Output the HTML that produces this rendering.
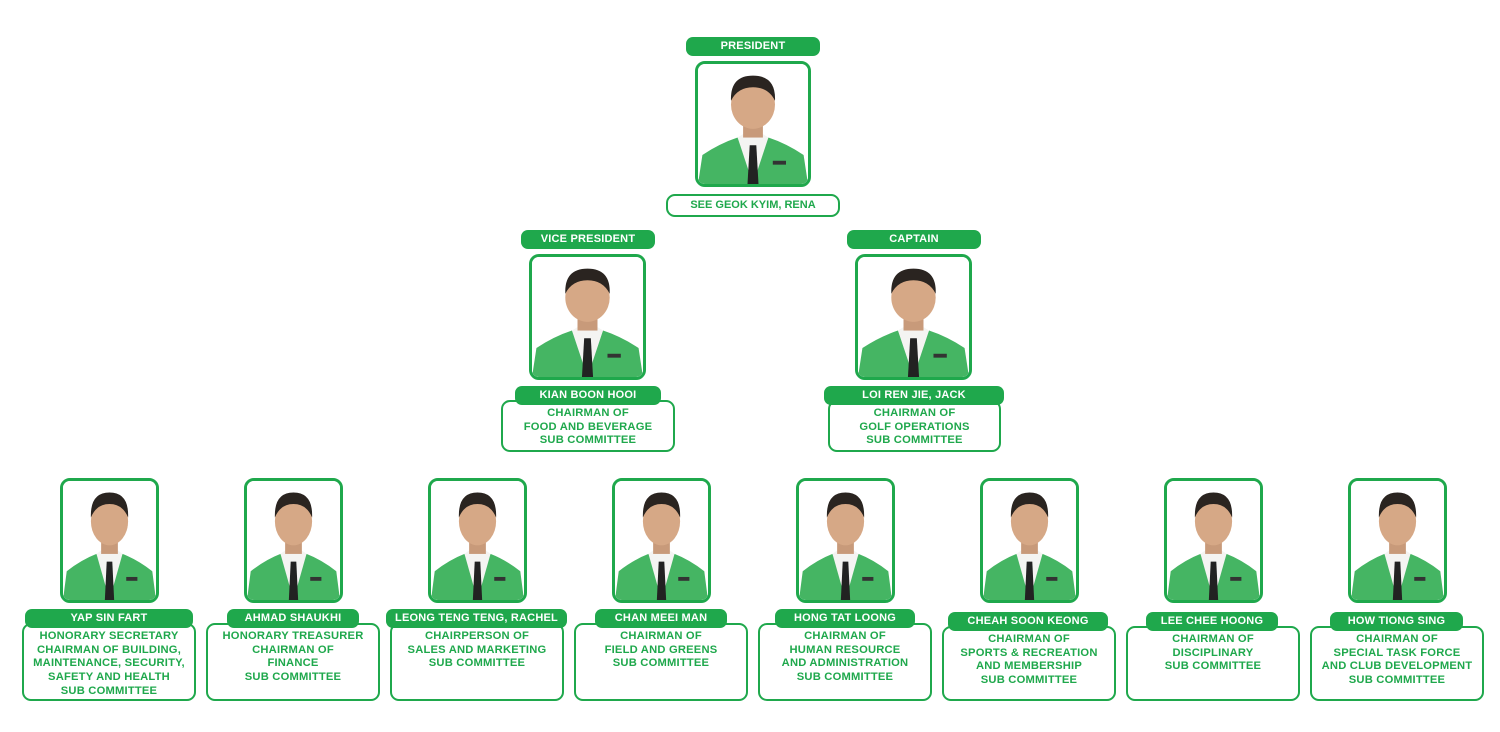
<!DOCTYPE html>
<html><head><meta charset="utf-8"><style>
*{margin:0;padding:0;box-sizing:border-box}
body{width:1500px;height:732px;background:#fff;position:relative;overflow:hidden;font-family:"Liberation Sans",sans-serif;font-weight:bold;color:#1fa84c}
.pill{position:absolute;background:#1fa84c;color:#fff;border-radius:7px;font-size:11px;text-align:center;height:19px;line-height:19px;z-index:2;letter-spacing:.2px}
.ph{position:absolute;border:3px solid #1fa84c;border-radius:10px;overflow:hidden;background:#fff}
.ph svg{width:100%;height:100%;display:block}
.box{position:absolute;border:2.5px solid #1fa84c;border-radius:9px;font-size:11.2px;line-height:13.7px;text-align:center;background:#fff;padding-top:5px;letter-spacing:.2px;white-space:nowrap}
.nb{position:absolute;border:2px solid #1fa84c;border-radius:9px;font-size:11px;text-align:center;line-height:18px}
</style></head><body>
<svg width="0" height="0" style="position:absolute"><defs>
<symbol id="p" viewBox="0 0 100 124" preserveAspectRatio="none">
<rect width="100" height="124" fill="#fff"/>
<path d="M0 124 L4 94 Q20 82 36 76 L50 110 L64 76 Q80 82 96 94 L100 124Z" fill="#45b563"/>
<path d="M36 76 L50 124 L64 76 L57 71 L43 71Z" fill="#f4f4f2"/>
<path d="M47 84 L53 84 L55 124 L45 124Z" fill="#222"/>
<rect x="41" y="56" width="18" height="20" fill="#c89a7a"/>
<ellipse cx="50" cy="42" rx="20" ry="25" fill="#d6a886"/>
<path d="M30 38 Q29 12 50 12 Q71 12 70 38 Q64 24 50 24 Q36 24 30 38Z" fill="#2a2420"/>
<rect x="68" y="100" width="12" height="4" fill="#333"/>
</symbol></defs></svg>

<!-- President -->
<div class="pill" style="left:686px;top:37px;width:134px">PRESIDENT</div>
<div class="ph" style="left:695px;top:61px;width:116px;height:126px"><svg><use href="#p"/></svg></div>
<div class="nb" style="left:666px;top:194px;width:174px;height:23px">SEE GEOK KYIM, RENA</div>

<!-- VP -->
<div class="pill" style="left:521px;top:230px;width:134px">VICE PRESIDENT</div>
<div class="ph" style="left:529px;top:254px;width:117px;height:126px"><svg><use href="#p"/></svg></div>
<div class="pill" style="left:515px;top:386px;width:146px">KIAN BOON HOOI</div>
<div class="box" style="left:501px;top:400px;width:174px;height:52px">CHAIRMAN OF<br>FOOD AND BEVERAGE<br>SUB COMMITTEE</div>

<!-- Captain -->
<div class="pill" style="left:847px;top:230px;width:134px">CAPTAIN</div>
<div class="ph" style="left:855px;top:254px;width:117px;height:126px"><svg><use href="#p"/></svg></div>
<div class="pill" style="left:824px;top:386px;width:180px">LOI REN JIE, JACK</div>
<div class="box" style="left:828px;top:400px;width:173px;height:52px">CHAIRMAN OF<br>GOLF OPERATIONS<br>SUB COMMITTEE</div>

<!-- Bottom row -->
<div class="ph" style="left:60px;top:478px;width:99px;height:125px"><svg><use href="#p"/></svg></div>
<div class="pill" style="left:25px;top:609px;width:168px">YAP SIN FART</div>
<div class="box" style="left:22px;top:623px;width:174px;height:78px">HONORARY SECRETARY<br>CHAIRMAN OF BUILDING,<br>MAINTENANCE, SECURITY,<br>SAFETY AND HEALTH<br>SUB COMMITTEE</div>

<div class="ph" style="left:244px;top:478px;width:99px;height:125px"><svg><use href="#p"/></svg></div>
<div class="pill" style="left:227px;top:609px;width:132px">AHMAD SHAUKHI</div>
<div class="box" style="left:206px;top:623px;width:174px;height:78px">HONORARY TREASURER<br>CHAIRMAN OF<br>FINANCE<br>SUB COMMITTEE</div>

<div class="ph" style="left:428px;top:478px;width:99px;height:125px"><svg><use href="#p"/></svg></div>
<div class="pill" style="left:386px;top:609px;width:181px">LEONG TENG TENG, RACHEL</div>
<div class="box" style="left:390px;top:623px;width:174px;height:78px">CHAIRPERSON OF<br>SALES AND MARKETING<br>SUB COMMITTEE</div>

<div class="ph" style="left:612px;top:478px;width:99px;height:125px"><svg><use href="#p"/></svg></div>
<div class="pill" style="left:595px;top:609px;width:132px">CHAN MEEI MAN</div>
<div class="box" style="left:574px;top:623px;width:174px;height:78px">CHAIRMAN OF<br>FIELD AND GREENS<br>SUB COMMITTEE</div>

<div class="ph" style="left:796px;top:478px;width:99px;height:125px"><svg><use href="#p"/></svg></div>
<div class="pill" style="left:775px;top:609px;width:140px">HONG TAT LOONG</div>
<div class="box" style="left:758px;top:623px;width:174px;height:78px">CHAIRMAN OF<br>HUMAN RESOURCE<br>AND ADMINISTRATION<br>SUB COMMITTEE</div>

<div class="ph" style="left:980px;top:478px;width:99px;height:125px"><svg><use href="#p"/></svg></div>
<div class="pill" style="left:948px;top:612px;width:160px">CHEAH SOON KEONG</div>
<div class="box" style="left:942px;top:626px;width:174px;height:75px">CHAIRMAN OF<br>SPORTS &amp; RECREATION<br>AND MEMBERSHIP<br>SUB COMMITTEE</div>

<div class="ph" style="left:1164px;top:478px;width:99px;height:125px"><svg><use href="#p"/></svg></div>
<div class="pill" style="left:1146px;top:612px;width:132px">LEE CHEE HOONG</div>
<div class="box" style="left:1126px;top:626px;width:174px;height:75px">CHAIRMAN OF<br>DISCIPLINARY<br>SUB COMMITTEE</div>

<div class="ph" style="left:1348px;top:478px;width:99px;height:125px"><svg><use href="#p"/></svg></div>
<div class="pill" style="left:1330px;top:612px;width:133px">HOW TIONG SING</div>
<div class="box" style="left:1310px;top:626px;width:174px;height:75px">CHAIRMAN OF<br>SPECIAL TASK FORCE<br>AND CLUB DEVELOPMENT<br>SUB COMMITTEE</div>
</body></html>
